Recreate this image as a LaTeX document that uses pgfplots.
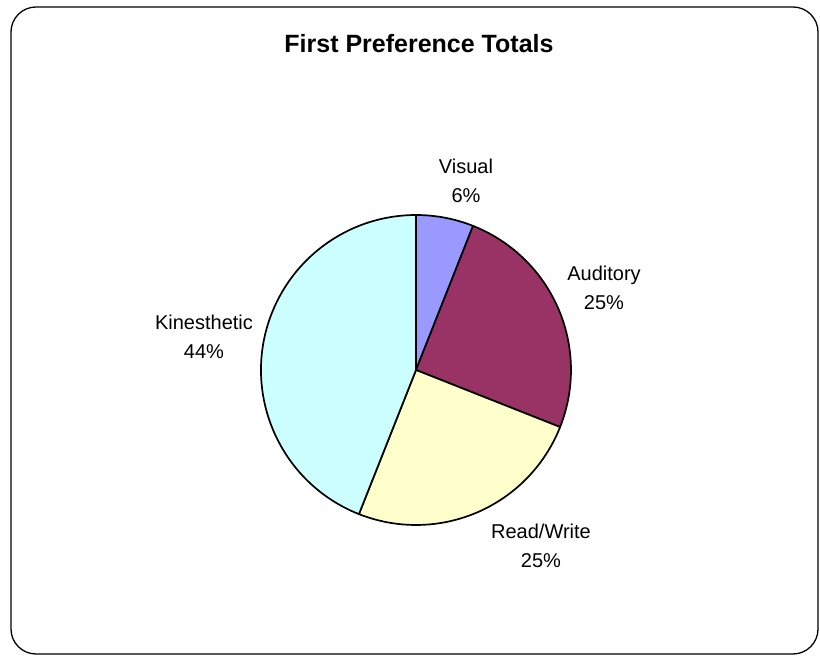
\documentclass[border=0pt]{standalone}
\usepackage{fontspec}
\setmainfont{Liberation Sans}
\usepackage{pgfplots}
\usepackage{pgfplotstable}
\pgfplotsset{compat=1.18}

\definecolor{cVisual}{HTML}{9999FF}
\definecolor{cAuditory}{HTML}{993366}
\definecolor{cReadWrite}{HTML}{FFFFCC}
\definecolor{cKines}{HTML}{CCFFFF}

\pgfplotstableread{
label share
Visual 6
Auditory 25
Read/Write 25
Kinesthetic 44
}\piedata

% shares -> slice angles, clockwise from 12 o'clock
\pgfplotstablegetelem{0}{share}\of\piedata \let\sA\pgfplotsretval
\pgfplotstablegetelem{1}{share}\of\piedata \let\sB\pgfplotsretval
\pgfplotstablegetelem{2}{share}\of\piedata \let\sC\pgfplotsretval
\pgfplotstablegetelem{3}{share}\of\piedata \let\sD\pgfplotsretval
\pgfmathsetmacro\aO{90}
\pgfmathsetmacro\aA{\aO-3.6*\sA}
\pgfmathsetmacro\aB{\aA-3.6*\sB}
\pgfmathsetmacro\aC{\aB-3.6*\sC}
\pgfmathsetmacro\aD{\aC-3.6*\sD}

% pie centre / radius in axis units (1 unit = 1pt)
\def\cx{416}
\def\cy{286}
\def\rr{155}

\newcommand\slice[3]{%
  \draw[black, line width=1.7pt, line join=round, fill=#3]
    (axis cs:\cx,\cy) -- ++(#1:\rr pt) arc[start angle=#1, end angle=#2, radius=\rr pt] -- cycle;}

\newcommand\lab[4]{% x, baseline of name (image y), name, value
  \node[anchor=base, font=\fontsize{20}{24}\selectfont] at (axis cs:#1,{656-#2}) {#3};
  \node[anchor=base, font=\fontsize{20}{24}\selectfont] at (axis cs:#1,{656-#2-29}) {#4\%};}

\begin{document}
\begin{tikzpicture}
\begin{axis}[
    hide axis,
    scale only axis,
    width=820pt, height=656pt,
    xmin=0, xmax=820, ymin=0, ymax=656,
    clip=false,
]
\path (axis cs:0,0) rectangle (axis cs:820,656);
\draw[line width=1.3pt, rounded corners=25pt] (axis cs:11,2) rectangle (axis cs:818,649);

\node[anchor=base, font=\bfseries\fontsize{25}{30}\selectfont] at (axis cs:419,603) {First Preference Totals};

\slice{\aO}{\aA}{cVisual}
\slice{\aA}{\aB}{cAuditory}
\slice{\aB}{\aC}{cReadWrite}
\slice{\aC}{\aD}{cKines}

\lab{466}{174}{Visual}{\sA}
\lab{604}{281}{Auditory}{\sB}
\lab{541}{539}{Read/Write}{\sC}
\lab{204}{330}{Kinesthetic}{\sD}
\end{axis}
\end{tikzpicture}
\end{document}
